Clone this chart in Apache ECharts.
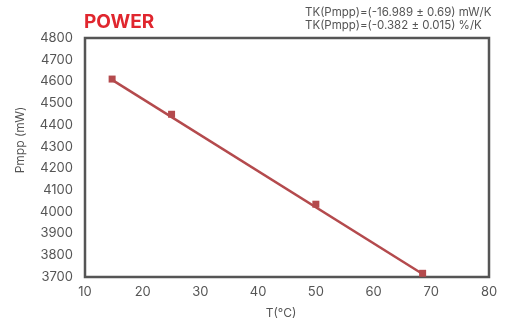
<!DOCTYPE html>
<html>
<head>
<meta charset="utf-8">
<script src="https://cdn.jsdelivr.net/npm/echarts@6/dist/echarts.min.js"></script>
<style>
    html, body { margin: 0; padding: 0; background: #fff; }
    #chart { width: 513px; height: 321px; }
</style>
</head>
<body>
<div id="chart"></div>
<script>
// measured points (T in °C, Pmpp in mW)
const temps = [14.7, 25, 50, 68.5]
const power = [4611, 4449, 4035, 3717]
// linear fit line, end points
const fitT = [14.7, 68.5]
const fitP = [4607, 3714]

const titleText = 'POWER'
const tkLines = ['TK(Pmpp)=(-16.989 ± 0.69) mW/K', 'TK(Pmpp)=(-0.382 ± 0.015) %/K']

const fontFamily = 'Inter, "Noto Sans", sans-serif'
const red = '#b44a4d'
const gray = '#555'

const EC = echarts.init(document.getElementById('chart'))
EC.setOption({
    animation: false,
    textStyle: { fontFamily },
    grid: {
        left: 85,
        right: 24,
        top: 38,
        bottom: 44,
        show: true,
        borderColor: gray,
        borderWidth: 2.5,
        backgroundColor: 'transparent'
    },
    xAxis: {
        type: 'value',
        min: 10,
        max: 80,
        interval: 10,
        axisLine: { show: false },
        axisTick: { show: false },
        splitLine: { show: false },
        axisLabel: { color: gray, fontSize: 13, margin: 9, fontFamily }
    },
    yAxis: {
        type: 'value',
        min: 3700,
        max: 4800,
        interval: 100,
        axisLine: { show: false },
        axisTick: { show: false },
        splitLine: { show: false },
        axisLabel: {
            color: gray,
            fontSize: 13,
            margin: 12,
            fontFamily,
            padding: [0, 0, 10, 0],
            formatter: v => String(v)
        }
    },
    graphic: [
        {
            type: 'text',
            left: 84,
            top: 13,
            style: { text: titleText, fill: '#e0262e', font: 'bold 19px ' + fontFamily }
        },
        {
            type: 'text',
            left: 305,
            top: 6,
            style: {
                text: tkLines.join('\n'),
                fill: gray,
                font: '11.5px ' + fontFamily,
                lineHeight: 13
            }
        },
        {
            type: 'text',
            x: 20,
            y: 140,
            rotation: Math.PI / 2,
            style: {
                text: 'Pmpp (mW)',
                fill: gray,
                font: '12px ' + fontFamily,
                textAlign: 'center',
                textVerticalAlign: 'middle'
            }
        },
        {
            type: 'text',
            x: 281,
            y: 313,
            style: {
                text: 'T(°C)',
                fill: gray,
                font: '12px ' + fontFamily,
                textAlign: 'center',
                textVerticalAlign: 'middle'
            }
        }
    ],
    series: [
        {
            type: 'line',
            data: fitT.map((t, i) => [t, fitP[i]]),
            showSymbol: false,
            lineStyle: { color: red, width: 2.5 },
            z: 2
        },
        {
            type: 'scatter',
            data: temps.map((t, i) => [t, power[i]]),
            symbol: 'rect',
            symbolSize: 7,
            itemStyle: { color: red, opacity: 1 },
            z: 3
        }
    ]
})
</script>
</body>
</html>
